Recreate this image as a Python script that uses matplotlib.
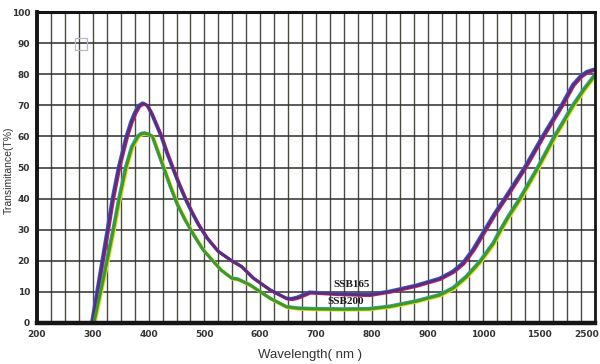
import numpy as np
import matplotlib.pyplot as plt
import matplotlib.transforms as mtransforms
from matplotlib.patches import Rectangle

# break points of the piecewise wavelength axis
axis_nm = [200, 1000, 1500, 2500]
axis_pos = [0, 8, 9, 10]

xtick_nm = [200, 300, 400, 500, 600, 700, 800, 900, 1000, 1500, 2500]
ytick_vals = [0, 10, 20, 30, 40, 50, 60, 70, 80, 90, 100]

# SSB165
wl_165 = [299, 313, 327, 336, 347, 361, 369, 375.6, 383, 390.5, 398, 405.5, 414,
          423, 433, 444, 455, 466, 478, 490, 505, 525, 549, 567, 588, 618, 647,
          657, 668, 689, 740, 795, 833, 880, 922, 946, 964, 982, 1015, 1100,
          1195, 1375, 1570, 1910, 2110, 2250, 2360, 2480, 2500]
t_165 = [0, 15, 30, 40, 50, 60, 64.5, 67.4, 69.8, 70.6, 69.9, 67.4, 63.8,
         60, 54.8, 49.6, 44.6, 40, 35.5, 31.5, 27.3, 23, 20, 18.1, 14.4, 10.6, 7.9,
         7.7, 8.2, 9.8, 9.3, 9.0, 10.1, 12.0, 14.2, 16.5, 19.2, 23.5, 29.8, 34.9,
         40, 50, 60, 70, 76.5, 79.3, 80.7, 81.4, 81.5]

# SSB200
wl_200 = [302, 320, 337, 347.5, 359.5, 370, 381, 387, 393.5, 400, 407, 418,
          429, 440, 452, 466, 482, 498, 515, 530, 549, 561, 582, 618, 647, 668,
          700, 750, 795, 833, 880, 922, 946, 970, 994, 1090, 1150, 1225, 1330,
          1490, 1780, 2110, 2300, 2480, 2500]
t_200 = [0, 15, 30, 40, 50, 56.5, 60, 60.8, 61, 60.7, 60, 54.5,
         49, 43.5, 38, 33, 28, 23.5, 20, 17, 14.4, 14, 12.2, 7.9, 5.2, 4.7,
         4.5, 4.4, 4.5, 5.3, 7.0, 9, 11.2, 14.9, 19.7, 25.6, 29.6, 34.2, 40,
         50, 60, 70, 75, 79.2, 79.6]


def forward(x):
    return np.interp(x, axis_nm, axis_pos)


def inverse(u):
    return np.interp(u, axis_pos, axis_nm)


fig = plt.figure(figsize=(6, 3.64), dpi=100)
ax = fig.add_axes([37 / 600, 41 / 364, 558 / 600, 311 / 364])
ax.set_xscale('function', functions=(forward, inverse))
ax.set_xlim(200, 2500)
ax.set_ylim(0, 100)

# grid: vertical every quarter step, horizontal every 10 %
minor_nm = inverse(np.arange(0, 10.01, 0.25))
for xv in minor_nm[1:-1]:
    ax.axvline(xv, color='#4a4a45', lw=1.0, zorder=1)
for yv in ytick_vals[1:-1]:
    ax.axhline(yv, color='#2e2e2e', lw=1.1, zorder=1)

# faint square mark
ax.add_patch(Rectangle((0.068, 0.878), 0.0215, 0.0386, transform=ax.transAxes,
                       fill=False, ec='#b8b8c8', lw=0.9, zorder=2))


# curves with slight colour fringes like the scanned original
def fringe(dx, dy):
    return mtransforms.offset_copy(ax.transData, fig=fig, x=dx, y=dy, units='points')


kw = dict(solid_joinstyle='round', solid_capstyle='round')
ax.plot(wl_165, t_165, color='#3a5ad0', lw=2.2, transform=fringe(-0.5, 0.4), zorder=3, **kw)
ax.plot(wl_165, t_165, color='#d0206a', lw=2.2, transform=fringe(0.5, -0.4), zorder=3, **kw)
ax.plot(wl_165, t_165, color='#56307e', lw=2.0, zorder=4, **kw)

ax.plot(wl_200, t_200, color='#38a0d0', lw=2.2, transform=fringe(-0.4, 0.4), zorder=3, **kw)
ax.plot(wl_200, t_200, color='#e8e020', lw=2.4, transform=fringe(0.6, -0.5), zorder=3, **kw)
ax.plot(wl_200, t_200, color='#3c9a28', lw=2.2, zorder=4, **kw)

ax.text(763, 12.5, 'SSB165', family='Liberation Serif', weight='bold', fontsize=8,
        color='#1a1a1a', ha='center', va='center', zorder=5)
ax.text(754, 7.0, 'SSB200', family='Liberation Serif', weight='bold', fontsize=8,
        color='#1a1a1a', ha='center', va='center', zorder=5)

ax.set_xticks(xtick_nm)
ax.set_xticklabels([str(v) for v in xtick_nm])
ax.set_xticks([], minor=True)
ax.set_yticks(ytick_vals)
ax.tick_params(length=0, labelsize=6.5, labelcolor='#333333', pad=5)
for lab in ax.get_xticklabels() + ax.get_yticklabels():
    lab.set_fontweight('bold')
# last label sits inside the figure edge
last = ax.get_xticklabels()[-1]
last.set_transform(last.get_transform() +
                   mtransforms.ScaledTranslation(-8 / 100, 0, fig.dpi_scale_trans))

ax.spines['left'].set_linewidth(2.8)
ax.spines['bottom'].set_linewidth(3.2)
ax.spines['top'].set_linewidth(2.2)
ax.spines['right'].set_linewidth(2.0)
for s in ax.spines.values():
    s.set_color('#151515')
    s.set_zorder(6)

fig.text(310 / 600, 1 - 355 / 364, 'Wavelength( nm )', ha='center', va='center',
         fontsize=9.5, color='#333333', family='Liberation Sans')
fig.text(9 / 600, 1 - 170 / 364, 'Transimitance(T%)', ha='center', va='center',
         rotation=90, fontsize=7.5, color='#333333', family='Liberation Sans')

fig.savefig('out.png', dpi=100)
